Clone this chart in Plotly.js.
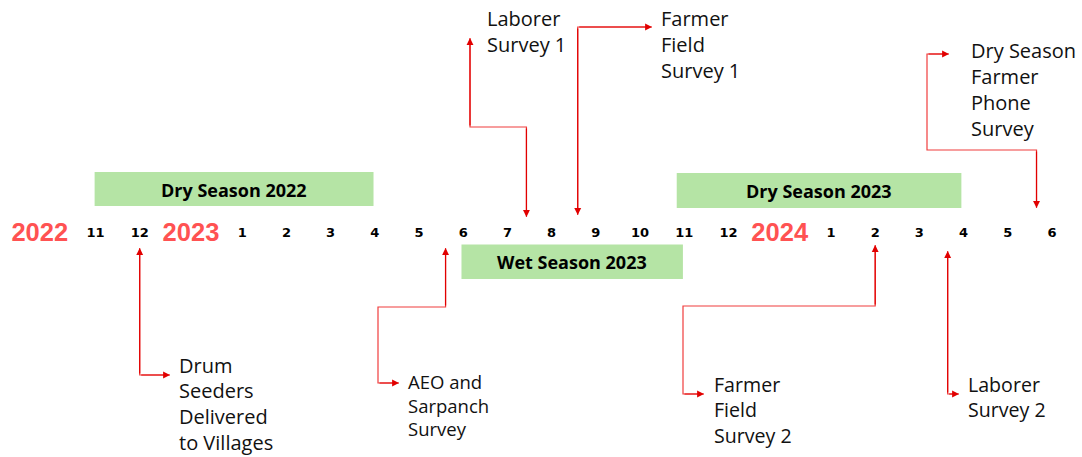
<!DOCTYPE html>
<html>
<head>
<meta charset="utf-8">
<script src="https://cdn.plot.ly/plotly-3.0.1.min.js"></script>
<style>html,body{margin:0;padding:0;background:#fff;}#chart{width:1082px;height:457px;}</style>
</head>
<body>
<div id="chart"></div>
<script>
// ---------------- DATA ----------------
const years = [2022, 2023, 2024];
const months2022 = [11, 12];
const months2023 = [1, 2, 3, 4, 5, 6, 7, 8, 9, 10, 11, 12];
const months2024 = [1, 2, 3, 4, 5, 6];

const seasonNames      = ["Dry Season 2022", "Wet Season 2023", "Dry Season 2023"];
const seasonStartYear  = [2022, 2023, 2023];
const seasonStartMonth = [10.98, 5.96, 10.83];
const seasonEndYear    = [2023, 2023, 2024];
const seasonEndMonth   = [3.97, 10.97, 3.95];

const eventLabels = [
  "Drum<br>Seeders<br>Delivered<br>to Villages",
  "AEO and<br>Sarpanch<br>Survey",
  "Laborer<br>Survey 1",
  "Farmer<br>Field<br>Survey 1",
  "Farmer<br>Field<br>Survey 2",
  "Laborer<br>Survey 2",
  "Dry Season<br>Farmer<br>Phone<br>Survey"
];
const eventYear  = [2022, 2023, 2023, 2023, 2024, 2024, 2024];
const eventMonth = [12, 5.6, 7.43, 8.59, 2, 3.64, 5.65];

// ---------------- LAYOUT HELPERS ----------------
const X0 = 95.5, DX = 44.2, GAP = 1.32, W = 1082, H = 457;
// timeline scale: month -> axis position (year labels take an extra gap)
function pos(year, month) {
  let idx = (year - 2022) * 12 + month - 11;
  if (year >= 2023) idx += GAP;
  if (year >= 2024) idx += GAP;
  return idx;
}
// layout pixel -> axis units (for label / elbow placement)
function L(px) { return (px - X0) / DX; }

const RED_LINE = 'rgb(240,60,60)';
const RED_HEAD = 'rgb(225,0,0)';
const ROW_Y = 234;

const traces = [];
const shapes = [];
const annotations = [];

// month tick labels
const monthSets = {2022: months2022, 2023: months2023, 2024: months2024};
const mx = [], mt = [];
years.forEach(y => monthSets[y].forEach(m => { mx.push(pos(y, m)); mt.push(String(m)); }));
traces.push({
  type: 'scatter', mode: 'text', x: mx, y: mx.map(() => ROW_Y), text: mt,
  textposition: 'middle center', hoverinfo: 'skip',
  textfont: {family: 'DejaVu Sans', size: 13, color: '#000', weight: 'bold'}
});
// year labels
const yx = years.map((y, i) => pos(y, monthSets[y][0]) - (1 + GAP) / 2 - (i === 0 ? 0.1 : 0));
traces.push({
  type: 'scatter', mode: 'text', x: yx, y: yx.map(() => ROW_Y + 0.5), text: years.map(String),
  textposition: 'middle center', hoverinfo: 'skip',
  textfont: {family: 'Liberation Sans', size: 25.5, color: '#ff5252', weight: 'bold'}
});

// seasons
const seasonY = [[172, 206], [244.5, 279], [173, 208]];
seasonNames.forEach((name, i) => {
  const x0 = pos(seasonStartYear[i], seasonStartMonth[i]);
  const x1 = pos(seasonEndYear[i], seasonEndMonth[i]);
  shapes.push({type: 'rect', xref: 'x', yref: 'y', x0: x0, x1: x1,
    y0: seasonY[i][0], y1: seasonY[i][1], fillcolor: '#b5e4a5', line: {width: 0}, layer: 'below'});
  annotations.push({xref: 'x', yref: 'y', x: (x0 + x1) / 2, y: (seasonY[i][0] + seasonY[i][1]) / 2 + 0.5,
    text: name, showarrow: false, xanchor: 'center', yanchor: 'middle', borderpad: 0,
    font: {family: 'Open Sans', size: 18, color: '#000', weight: 'bold'}});
});

// connectors: first point on the timeline at the event position, then elbows (px) to label
const routes = [
  {tipY: 248, pts: [[null, 375], [170, 375]]},
  {tipY: 248, pts: [[null, 307], [378, 307], [378, 383], [399, 383]]},
  {tipY: 217, pts: [[null, 127], [470, 127], [470, 38]]},
  {tipY: 215, pts: [[null, 27], [652, 27]]},
  {tipY: 245, pts: [[null, 306], [683, 306], [683, 394], [704, 394]]},
  {tipY: 251, pts: [[null, 394], [959, 394]]},
  {tipY: 208, pts: [[null, 150], [927, 150], [927, 54], [949, 54]]}
];
const labelPos = [
  {x: 179, y: 365, dy: 25.9, fs: 20},
  {x: 408, y: 381.5, dy: 23.6, fs: 18.5},
  {x: 487, y: 18, dy: 26, fs: 20},
  {x: 661, y: 18, dy: 26, fs: 20},
  {x: 714, y: 384, dy: 25.5, fs: 19.6},
  {x: 968, y: 384, dy: 25.5, fs: 19.6},
  {x: 971, y: 50, dy: 26, fs: 20}
];

eventLabels.forEach((lab, i) => {
  const ex = pos(eventYear[i], eventMonth[i]);
  const r = routes[i];
  const xs = [ex], ys = [r.tipY];
  r.pts.forEach(p => { xs.push(p[0] === null ? ex : L(p[0])); ys.push(p[1]); });
  traces.push({type: 'scatter', mode: 'lines', x: xs, y: ys, hoverinfo: 'skip',
    line: {color: RED_LINE, width: 1.2}});
  const n = xs.length;
  [[0, 1], [n - 1, n - 2]].forEach(([tip, tail]) => {
    annotations.push({xref: 'x', yref: 'y', axref: 'x', ayref: 'y',
      x: xs[tip], y: ys[tip], ax: xs[tail], ay: ys[tail], text: '',
      showarrow: true, arrowhead: 2, arrowsize: 1.15, arrowwidth: 1.2, arrowcolor: RED_HEAD,
      standoff: 0, startstandoff: 0});
  });
  const lp = labelPos[i];
  lab.split('<br>').forEach((line, k) => {
    annotations.push({xref: 'x', yref: 'y', x: L(lp.x), y: lp.y + k * lp.dy, text: line,
      showarrow: false, xanchor: 'left', yanchor: 'middle', borderpad: 0, borderwidth: 0,
      font: {family: 'Open Sans', size: lp.fs, color: '#111'}});
  });
});

const layout = {
  width: W, height: H, margin: {l: 0, r: 0, t: 0, b: 0},
  paper_bgcolor: '#fff', plot_bgcolor: '#fff', showlegend: false,
  xaxis: {range: [L(0), L(W)], visible: false, fixedrange: true},
  yaxis: {range: [H, 0], visible: false, fixedrange: true},
  shapes: shapes, annotations: annotations
};
Plotly.newPlot('chart', traces, layout, {displayModeBar: false, staticPlot: true});
</script>
</body>
</html>
